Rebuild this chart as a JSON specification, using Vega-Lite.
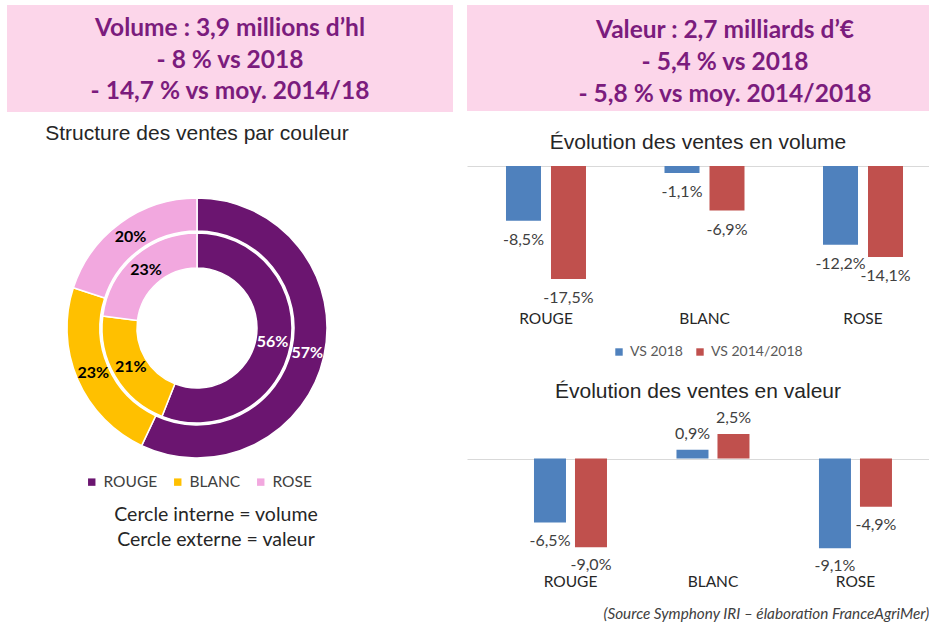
{
  "$schema": "https://vega.github.io/schema/vega-lite/v6.json",
  "padding": {"left": 7, "top": 5, "right": 0, "bottom": 0},
  "background": "white",
  "config": {"view": {"stroke": null}, "font": "Lato"},
  "spacing": 14,
  "resolve": {"legend": {"color": "independent", "fill": "independent"}},
  "hconcat": [
    {
      "spacing": 11,
      "resolve": {"legend": {"color": "independent", "fill": "independent"}},
      "vconcat": [
        {
          "width": 446, "height": 107,
          "view": {"fill": "#fcd6ea", "stroke": null},
          "data": {"values": [
            {"ligne": 1, "texte": "Volume : 3,9 millions d’hl"},
            {"ligne": 2, "texte": "- 8 % vs 2018"},
            {"ligne": 3, "texte": "- 14,7 % vs moy. 2014/18"}
          ]},
          "mark": {"type": "text", "font": "Lato", "fontWeight": "bold", "fontSize": 24.5, "color": "#7b1c7d", "dy": 2},
          "encoding": {
            "y": {"field": "ligne", "type": "ordinal", "axis": null, "scale": {"padding": 0.7}},
            "text": {"field": "texte", "type": "nominal"}
          }
        },
        {
          "width": 380, "height": 300,
          "title": {"text": "Structure des ventes par couleur", "font": "Liberation Sans", "fontSize": 21, "fontWeight": "normal", "color": "#262626", "offset": 34},
          "data": {"values": [
            {"couleur": "ROUGE", "cercle": "externe", "part": 0.57, "etiq": "57%", "ordre": 1},
            {"couleur": "BLANC", "cercle": "externe", "part": 0.23, "etiq": "23%", "ordre": 2},
            {"couleur": "ROSE", "cercle": "externe", "part": 0.20, "etiq": "20%", "ordre": 3},
            {"couleur": "ROUGE", "cercle": "interne", "part": 0.56, "etiq": "56%", "ordre": 1},
            {"couleur": "BLANC", "cercle": "interne", "part": 0.21, "etiq": "21%", "ordre": 2},
            {"couleur": "ROSE", "cercle": "interne", "part": 0.23, "etiq": "23%", "ordre": 3}
          ]},
          "layer": [
            {
              "transform": [{"filter": "datum.cercle == 'externe'"}],
              "mark": {"type": "arc", "radius": 130, "radius2": 97, "stroke": "white", "strokeWidth": 1.5},
              "encoding": {
                "theta": {"field": "part", "type": "quantitative", "stack": true},
                "order": {"field": "ordre", "type": "quantitative"},
                "color": {"field": "couleur", "type": "nominal",
                  "scale": {"domain": ["ROUGE", "BLANC", "ROSE"], "range": ["#6b1570", "#ffc000", "#f2a8df"]},
                  "legend": {"orient": "none", "legendX": 77, "legendY": 296, "direction": "horizontal", "title": null, "symbolType": "square", "symbolSize": 55, "symbolStrokeWidth": 0, "labelFont": "Lato", "labelFontSize": 15.5, "labelColor": "#404040", "columnPadding": 12}}
              }
            },
            {
              "transform": [{"filter": "datum.cercle == 'interne'"}],
              "mark": {"type": "arc", "radius": 95, "radius2": 60, "stroke": "white", "strokeWidth": 1.5},
              "encoding": {
                "theta": {"field": "part", "type": "quantitative", "stack": true},
                "order": {"field": "ordre", "type": "quantitative"},
                "color": {"field": "couleur", "type": "nominal"}
              }
            },
            {
              "transform": [{"filter": "datum.cercle == 'externe'"}],
              "mark": {"type": "text", "radius": 113, "font": "Lato", "fontWeight": "bold", "fontSize": 16},
              "encoding": {
                "theta": {"field": "part", "type": "quantitative", "stack": true},
                "order": {"field": "ordre", "type": "quantitative"},
                "detail": {"field": "couleur", "type": "nominal"},
                "text": {"field": "etiq", "type": "nominal"},
                "color": {"condition": {"test": "datum.couleur == 'ROUGE'", "value": "white"}, "value": "black"}
              }
            },
            {
              "transform": [{"filter": "datum.cercle == 'interne'"}],
              "mark": {"type": "text", "radius": 77, "font": "Lato", "fontWeight": "bold", "fontSize": 16},
              "encoding": {
                "theta": {"field": "part", "type": "quantitative", "stack": true},
                "order": {"field": "ordre", "type": "quantitative"},
                "detail": {"field": "couleur", "type": "nominal"},
                "text": {"field": "etiq", "type": "nominal"},
                "color": {"condition": {"test": "datum.couleur == 'ROUGE'", "value": "white"}, "value": "black"}
              }
            }
          ]
        },
        {
          "width": 418, "height": 50,
          "data": {"values": [
            {"ligne": 1, "texte": "Cercle interne = volume"},
            {"ligne": 2, "texte": "Cercle externe = valeur"}
          ]},
          "mark": {"type": "text", "font": "Lato", "fontSize": 19.5, "color": "#262626"},
          "encoding": {
            "y": {"field": "ligne", "type": "ordinal", "axis": null},
            "text": {"field": "texte", "type": "nominal"}
          }
        }
      ]
    },
    {
      "spacing": 21,
      "resolve": {"legend": {"color": "independent", "fill": "independent"}},
      "vconcat": [
        {
          "width": 462, "height": 106,
          "view": {"fill": "#fcd6ea", "stroke": null},
          "data": {"values": [
            {"ligne": 1, "texte": "Valeur : 2,7 milliards d’€"},
            {"ligne": 2, "texte": "- 5,4 % vs 2018"},
            {"ligne": 3, "texte": "- 5,8 % vs moy. 2014/2018"}
          ]},
          "mark": {"type": "text", "font": "Lato", "fontWeight": "bold", "fontSize": 24.5, "color": "#7b1c7d", "dx": 27, "dy": 5},
          "encoding": {
            "y": {"field": "ligne", "type": "ordinal", "axis": null, "scale": {"padding": 0.66}},
            "text": {"field": "texte", "type": "nominal"}
          }
        },
        {
          "width": 462, "height": 129,
          "title": {"text": "Évolution des ventes en volume", "font": "Liberation Sans", "fontSize": 21, "fontWeight": "normal", "color": "#262626", "offset": 13},
          "data": {"values": [
            {"couleur": "ROUGE", "serie": "VS 2018", "val": -8.5, "etiq": "-8,5%"},
            {"couleur": "ROUGE", "serie": "VS 2014/2018", "val": -17.5, "etiq": "-17,5%"},
            {"couleur": "BLANC", "serie": "VS 2018", "val": -1.1, "etiq": "-1,1%"},
            {"couleur": "BLANC", "serie": "VS 2014/2018", "val": -6.9, "etiq": "-6,9%"},
            {"couleur": "ROSE", "serie": "VS 2018", "val": -12.2, "etiq": "-12,2%"},
            {"couleur": "ROSE", "serie": "VS 2014/2018", "val": -14.1, "etiq": "-14,1%"}
          ]},
          "encoding": {
            "x": {"field": "couleur", "type": "nominal", "sort": ["ROUGE", "BLANC", "ROSE"],
              "scale": {"paddingInner": 0.4953, "paddingOuter": 0.205, "align": 0.6},
              "axis": {"title": null, "orient": "bottom", "labelAngle": 0, "ticks": false, "domain": false, "labelFont": "Lato", "labelFontSize": 15.5, "labelColor": "#262626", "labelPadding": 16}},
            "y": {"field": "val", "type": "quantitative", "scale": {"domain": [-20, 0]},
              "axis": {"values": [0], "grid": true, "gridColor": "#d9d9d9", "gridWidth": 1, "labels": false, "ticks": false, "domain": false, "title": null}}
          },
          "layer": [
            {
              "transform": [{"filter": "datum.serie == 'VS 2018'"}],
              "mark": {"type": "bar", "width": 35, "xOffset": -22.5},
              "encoding": {
                "fill": {"field": "serie", "type": "nominal",
                  "scale": {"domain": ["VS 2018", "VS 2014/2018"], "range": ["#4f81bd", "#c0504d"]},
                  "legend": {"orient": "none", "legendX": 145, "legendY": 179, "direction": "horizontal", "title": null, "symbolType": "square", "symbolSize": 55, "symbolStrokeWidth": 0, "labelFont": "Lato", "labelFontSize": 14, "labelColor": "#595959", "columnPadding": 10}}
              }
            },
            {
              "transform": [{"filter": "datum.serie == 'VS 2014/2018'"}],
              "mark": {"type": "bar", "width": 35, "xOffset": 22.5},
              "encoding": {
                "fill": {"field": "serie", "type": "nominal"}
              }
            },
            {
              "transform": [{"filter": "datum.serie == 'VS 2018'"}],
              "mark": {"type": "text", "dy": 19, "xOffset": -22.5, "font": "Lato", "fontSize": 16, "color": "#404040"},
              "encoding": {"text": {"field": "etiq", "type": "nominal"}}
            },
            {
              "transform": [{"filter": "datum.serie == 'VS 2014/2018'"}],
              "mark": {"type": "text", "dy": 19, "xOffset": 22.5, "font": "Lato", "fontSize": 16, "color": "#404040"},
              "encoding": {"text": {"field": "etiq", "type": "nominal"}}
            }
          ]
        },
        {
          "width": 462, "height": 128,
          "title": {"text": "Évolution des ventes en valeur", "font": "Liberation Sans", "fontSize": 21, "fontWeight": "normal", "color": "#262626", "offset": 8},
          "data": {"values": [
            {"couleur": "ROUGE", "serie": "VS 2018", "val": -6.5, "etiq": "-6,5%"},
            {"couleur": "ROUGE", "serie": "VS 2014/2018", "val": -9.0, "etiq": "-9,0%"},
            {"couleur": "BLANC", "serie": "VS 2018", "val": 0.9, "etiq": "0,9%"},
            {"couleur": "BLANC", "serie": "VS 2014/2018", "val": 2.5, "etiq": "2,5%"},
            {"couleur": "ROSE", "serie": "VS 2018", "val": -9.1, "etiq": "-9,1%"},
            {"couleur": "ROSE", "serie": "VS 2014/2018", "val": -4.9, "etiq": "-4,9%"}
          ]},
          "encoding": {
            "x": {"field": "couleur", "type": "nominal", "sort": ["ROUGE", "BLANC", "ROSE"],
              "scale": {"paddingInner": 0.4877, "paddingOuter": 0.365, "align": 0.644},
              "axis": {"title": "(Source Symphony IRI – élaboration FranceAgriMer)", "titleFont": "Lato", "titleFontStyle": "italic", "titleFontWeight": "normal", "titleFontSize": 15.3, "titleColor": "#404040", "titleAlign": "left", "titleAnchor": "start", "titleX": 136, "titleY": 56, "titleBaseline": "middle", "titleLimit": 326,
                "orient": "bottom", "labelAngle": 0, "ticks": false, "domain": false, "labelFont": "Lato", "labelFontSize": 15.5, "labelColor": "#262626", "labelPadding": 17}},
            "y": {"field": "val", "type": "quantitative", "scale": {"domain": [-10, 3]},
              "axis": {"values": [0], "grid": true, "gridColor": "#d9d9d9", "gridWidth": 1, "labels": false, "ticks": false, "domain": false, "title": null}}
          },
          "layer": [
            {
              "transform": [{"filter": "datum.serie == 'VS 2018'"}],
              "mark": {"type": "bar", "width": 32, "xOffset": -20.5, "color": "#4f81bd"}
            },
            {
              "transform": [{"filter": "datum.serie == 'VS 2014/2018'"}],
              "mark": {"type": "bar", "width": 32, "xOffset": 20.5, "color": "#c0504d"}
            },
            {
              "transform": [{"filter": "datum.serie == 'VS 2018' && datum.val < 0"}],
              "mark": {"type": "text", "dy": 18, "xOffset": -20.5, "font": "Lato", "fontSize": 16, "color": "#404040"},
              "encoding": {"text": {"field": "etiq", "type": "nominal"}}
            },
            {
              "transform": [{"filter": "datum.serie == 'VS 2014/2018' && datum.val < 0"}],
              "mark": {"type": "text", "dy": 18, "xOffset": 20.5, "font": "Lato", "fontSize": 16, "color": "#404040"},
              "encoding": {"text": {"field": "etiq", "type": "nominal"}}
            },
            {
              "transform": [{"filter": "datum.serie == 'VS 2018' && datum.val >= 0"}],
              "mark": {"type": "text", "dy": -16, "xOffset": -20.5, "font": "Lato", "fontSize": 16, "color": "#404040"},
              "encoding": {"text": {"field": "etiq", "type": "nominal"}}
            },
            {
              "transform": [{"filter": "datum.serie == 'VS 2014/2018' && datum.val >= 0"}],
              "mark": {"type": "text", "dy": -16, "xOffset": 20.5, "font": "Lato", "fontSize": 16, "color": "#404040"},
              "encoding": {"text": {"field": "etiq", "type": "nominal"}}
            }
          ]
        }
      ]
    }
  ]
}
